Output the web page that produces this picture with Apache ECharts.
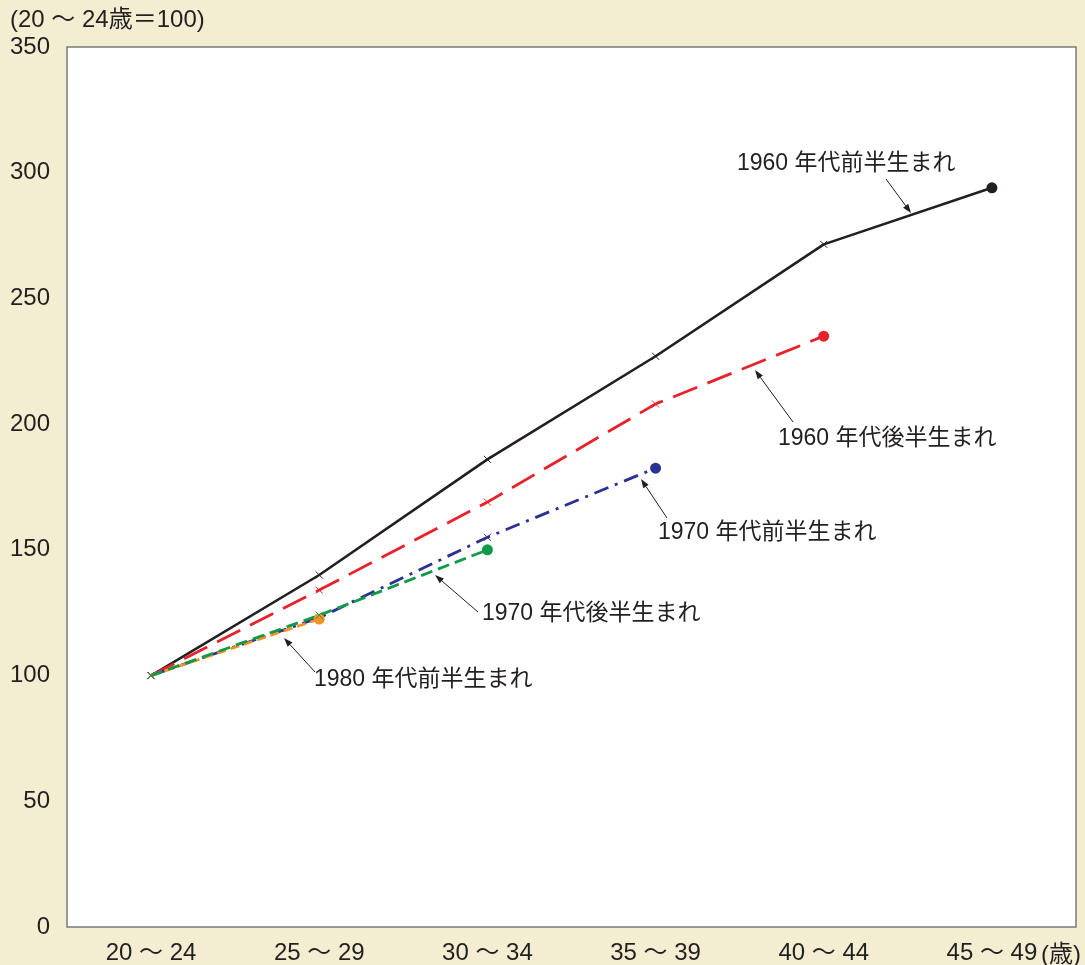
<!DOCTYPE html>
<html>
<head>
<meta charset="utf-8">
<script src="https://cdn.jsdelivr.net/npm/echarts@6/dist/echarts.min.js"></script>
<style>
  html, body { margin: 0; padding: 0; background: #f3edd2; }
  #chart { width: 1085px; height: 965px; }
</style>
</head>
<body>
<div id="chart"></div>
<script>
// Age groups on the horizontal axis
const ageGroups = ['20 ～ 24', '25 ～ 29', '30 ～ 34', '35 ～ 39', '40 ～ 44', '45 ～ 49'];

// Index values (20～24 = 100) for each birth cohort
const early1960s = [100, 140, 186, 227, 271.5, 294];
const late1960s  = [100, 134, 169, 208, 235];
const early1970s = [100, 123, 155, 182.5];
const late1970s  = [100, 124, 150];
const early1980s = [100, 122.5];

const cohortNames = ['1960 年代前半生まれ', '1960 年代後半生まれ', '1970 年代前半生まれ', '1970 年代後半生まれ', '1980 年代前半生まれ'];
const cohortColors = ['#231f20', '#e8222a', '#2b3192', '#0f9a48', '#f39325'];

const FONT = '"Liberation Sans", "Noto Sans CJK JP", sans-serif';
const TEXT_COLOR = '#231f20';
const CROSS = 'path://M0,0L10,10M10,0L0,10';

function buildSeries(name, values, color, lineStyle) {
  return {
    name: name,
    type: 'line',
    data: values.map((v, i) => i === values.length - 1
      ? { value: v, symbol: 'circle', symbolSize: 11, itemStyle: { color: color, borderWidth: 0 } }
      : { value: v }),
    symbol: CROSS,
    symbolSize: 7,
    showAllSymbol: true,
    itemStyle: { color: color, borderColor: color, borderWidth: 1 },
    lineStyle: Object.assign({ color: color }, lineStyle),
    emphasis: { disabled: true },
    animation: false
  };
}

const chart = echarts.init(document.getElementById('chart'));

chart.setOption({
  backgroundColor: '#f3edd2',
  animation: false,
  textStyle: { fontFamily: FONT },
  grid: {
    left: 67, right: 9, top: 47, bottom: 35,
    show: true, backgroundColor: '#ffffff', borderColor: '#7a7a7a', borderWidth: 1.5
  },
  xAxis: {
    type: 'category',
    data: ageGroups,
    boundaryGap: true,
    axisLine: { show: false },
    axisTick: { show: false },
    axisLabel: { fontSize: 24, color: TEXT_COLOR, margin: 14, fontFamily: FONT }
  },
  yAxis: {
    type: 'value',
    min: 0, max: 350, interval: 50,
    axisLine: { show: false },
    axisTick: { show: false },
    splitLine: { show: false },
    axisLabel: { fontSize: 24, color: TEXT_COLOR, margin: 17, fontFamily: FONT }
  },
  series: [
    buildSeries(cohortNames[0], early1960s, cohortColors[0], { width: 2.6, type: 'solid' }),
    buildSeries(cohortNames[1], late1960s, cohortColors[1], { width: 2.8, type: [26, 11] }),
    buildSeries(cohortNames[2], early1970s, cohortColors[2], { width: 2.8, type: [15, 7, 3, 7] }),
    buildSeries(cohortNames[4], early1980s, cohortColors[4], { width: 2.8, type: [9, 5] }),
    buildSeries(cohortNames[3], late1970s, cohortColors[3], { width: 2.8, type: [12, 6] })
  ]
});

// Callout labels with leader arrows pointing at each cohort line
const callouts = [
  { text: cohortNames[0], left: 737, cy: 164, from: [886, 179], to: [911, 213] },
  { text: cohortNames[1], left: 778, cy: 439, from: [793, 422], to: [755, 370] },
  { text: cohortNames[2], left: 658, cy: 533, from: [667, 518], to: [641, 479] },
  { text: cohortNames[3], left: 482, cy: 614, from: [478, 612], to: [435, 575] },
  { text: cohortNames[4], left: 314, cy: 680, from: [315, 672], to: [284, 638] }
];

const graphics = [];
callouts.forEach(c => {
  graphics.push({
    type: 'text', x: c.left, y: c.cy, silent: true,
    style: { text: c.text, fill: TEXT_COLOR, font: '23px ' + FONT, verticalAlign: 'middle', align: 'left' }
  });
  const dx = c.to[0] - c.from[0], dy = c.to[1] - c.from[1];
  const len = Math.hypot(dx, dy), ux = dx / len, uy = dy / len;
  const headLen = 9, headHalf = 3.2;
  const bx = c.to[0] - ux * headLen, by = c.to[1] - uy * headLen;
  graphics.push({
    type: 'line', silent: true,
    shape: { x1: c.from[0], y1: c.from[1], x2: bx, y2: by },
    style: { stroke: TEXT_COLOR, lineWidth: 1 }
  });
  graphics.push({
    type: 'polygon', silent: true,
    shape: { points: [c.to, [bx - uy * headHalf, by + ux * headHalf], [bx + uy * headHalf, by - ux * headHalf]] },
    style: { fill: TEXT_COLOR }
  });
});

// Axis unit captions
graphics.push({
  type: 'text', x: 10, y: 20, silent: true,
  style: { text: '(20 ～ 24歳＝100)', font: '24px ' + FONT, fill: TEXT_COLOR, verticalAlign: 'middle', align: 'left' }
});
graphics.push({
  type: 'text', x: 1081, y: 955, silent: true,
  style: { text: '(歳)', font: '24px ' + FONT, fill: TEXT_COLOR, verticalAlign: 'middle', align: 'right' }
});

chart.setOption({ graphic: graphics });
</script>
</body>
</html>
